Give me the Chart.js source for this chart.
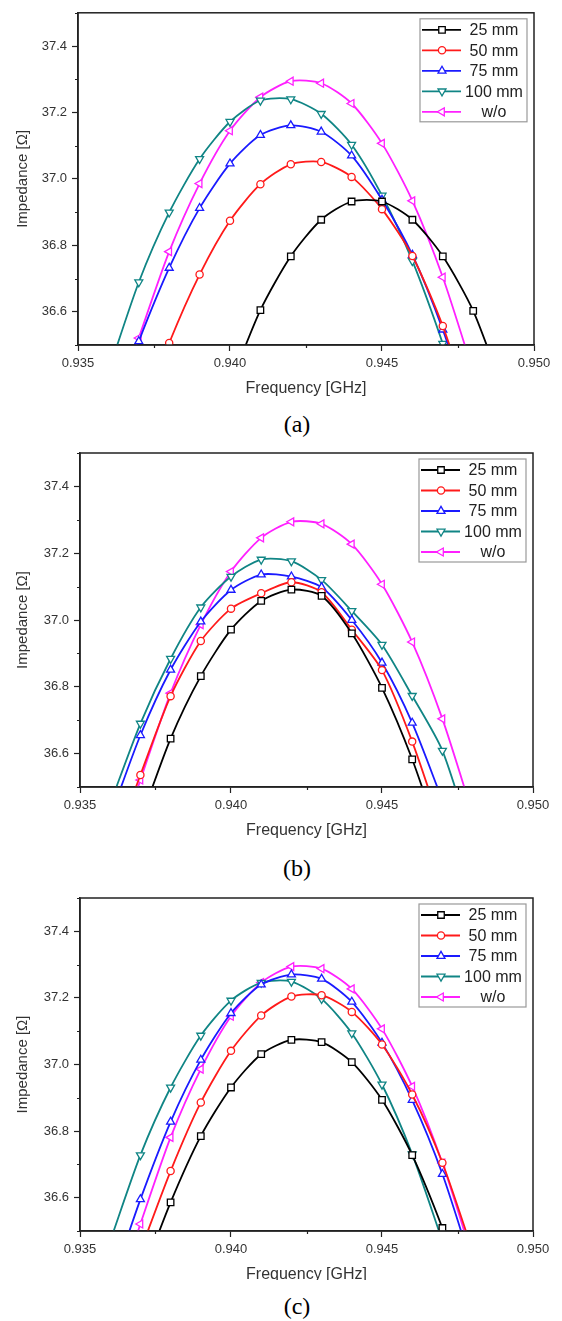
<!DOCTYPE html>
<html>
<head>
<meta charset="utf-8">
<script src="https://cdn.jsdelivr.net/npm/chart.js@4.4.1/dist/chart.umd.min.js"></script>
<style>
body { margin: 0; background: #fff; width: 562px; height: 1321px; position: relative; overflow: hidden; }
.panel { position: absolute; left: 0; width: 562px; overflow: hidden; }
.panel canvas { position: absolute; left: 0; top: 0; }
.cap { position: absolute; left: 267px; width: 60px; text-align: center; line-height: 24px;
       font-family: "Liberation Serif", "Times New Roman", serif; font-size: 24px; color: #000; }
</style>
</head>
<body>
<div class="panel" style="top:0;height:396px"><canvas id="chartA" width="562" height="410"></canvas></div>
<div class="cap" style="top:412px">(a)</div>
<div class="panel" style="top:440px;height:412px"><canvas id="chartB" width="562" height="412"></canvas></div>
<div class="cap" style="top:856px">(b)</div>
<div class="panel" style="top:885px;height:395px"><canvas id="chartC" width="562" height="411"></canvas></div>
<div class="cap" style="top:1294px">(c)</div>

<script>
// frequency points [GHz]
const freq = [0.936, 0.937, 0.938, 0.939, 0.940, 0.941, 0.942, 0.943, 0.944, 0.945, 0.946, 0.947, 0.948, 0.949];

const seriesLabels = ['25 mm', '50 mm', '75 mm', '100 mm', 'w/o'];

// impedance [ohm], null = no point
// (a)
const a25  = [null, null, null, null, 36.38, 36.605, 36.767, 36.877, 36.932, 36.932, 36.877, 36.767, 36.603, 36.36];
const a50  = [null, 36.26, 36.506, 36.712, 36.874, 36.984, 37.044, 37.051, 37.006, 36.909, 36.768, 36.557, 36.28, null];
const a75  = [36.26, 36.511, 36.732, 36.912, 37.046, 37.132, 37.161, 37.142, 37.070, 36.937, 36.771, 36.546, 36.27, null];
const a100 = [36.42, 36.689, 36.899, 37.060, 37.172, 37.236, 37.240, 37.196, 37.103, 36.950, 36.753, 36.504, 36.22, null];
// (b)
const b25  = [null, 36.40, 36.645, 36.832, 36.971, 37.057, 37.091, 37.072, 36.960, 36.797, 36.583, 36.32, null, null];
const b50  = [36.29, 36.536, 36.772, 36.937, 37.034, 37.080, 37.113, 37.083, 36.971, 36.850, 36.636, 36.37, null, null];
const b75  = [36.41, 36.655, 36.851, 36.995, 37.090, 37.136, 37.130, 37.098, 37.000, 36.872, 36.692, 36.46, null, null];
const b100 = [36.45, 36.690, 36.884, 37.038, 37.130, 37.181, 37.176, 37.120, 37.027, 36.926, 36.773, 36.609, 36.33, null];
// (c)
const c25  = [null, 36.35, 36.586, 36.785, 36.931, 37.031, 37.074, 37.067, 37.007, 36.894, 36.728, 36.509, 36.25, null];
const c50  = [null, 36.44, 36.680, 36.886, 37.041, 37.147, 37.204, 37.208, 37.158, 37.060, 36.910, 36.705, 36.44, null];
const c75  = [36.33, 36.595, 36.828, 37.014, 37.154, 37.240, 37.270, 37.257, 37.188, 37.065, 36.893, 36.671, 36.39, null];
const c100 = [36.47, 36.728, 36.931, 37.087, 37.192, 37.246, 37.249, 37.197, 37.094, 36.940, 36.731, 36.47, null, null];
// without (same in all panels)
const woAll = [36.25, 36.521, 36.781, 36.986, 37.145, 37.246, 37.294, 37.288, 37.227, 37.107, 36.934, 36.704, 36.42, null];

// axis ticks
const xMin = 0.935, xMax = 0.950, xStep = 0.0025;
const yMin = 36.5, yMax = 37.5, yStep = 0.1;

const colors = ['#000000', '#ff1a1a', '#1a1aff', '#108585', '#ff20ff'];
const pointStyles = ['rect', 'circle', 'triangle', 'triangle', 'triangle'];
const rotations = [0, 0, 0, 180, 270];
const radii = [4.6, 3.6, 4.6, 4.6, 4.6];

const FONT = '"Liberation Sans", Arial, sans-serif';

function isMajorX(v) { return Math.round(v * 10000) % 50 === 0; }
function isMajorY(v) { return Math.round(v * 10) % 2 === 0; }

function toPoints(arr) {
    const pts = [];
    arr.forEach((v, i) => { if (v !== null) pts.push({ x: freq[i], y: v }); });
    return pts;
}

// frame, minor ticks and legend
const framePlugin = {
    id: 'frame',
    afterDatasetsDraw(chart) {
        const { ctx, chartArea: a } = chart;
        const xs = chart.scales.x, ys = chart.scales.y;
        ctx.save();
        ctx.strokeStyle = '#222';
        ctx.lineWidth = 1.2;
        ctx.beginPath();
        xs.ticks.forEach(t => {
            if (!isMajorX(t.value)) {
                const px = Math.round(xs.getPixelForValue(t.value)) + 0.5;
                ctx.moveTo(px, a.bottom); ctx.lineTo(px, a.bottom + 3);
            }
        });
        ys.ticks.forEach(t => {
            if (!isMajorY(t.value)) {
                const py = Math.round(ys.getPixelForValue(t.value)) + 0.5;
                ctx.moveTo(a.left, py); ctx.lineTo(a.left - 3, py);
            }
        });
        ctx.stroke();
        ctx.lineWidth = 1.5;
        ctx.strokeStyle = '#222';
        ctx.strokeRect(a.left, a.top, a.right - a.left, a.bottom - a.top);

        // legend box
        const bx = a.right - 114, by = a.top + 6, bw = 107, bh = 103;
        ctx.fillStyle = '#fff';
        ctx.fillRect(bx, by, bw, bh);
        ctx.strokeStyle = '#999';
        ctx.lineWidth = 1.2;
        ctx.strokeRect(bx, by, bw, bh);
        ctx.font = '16px ' + FONT;
        ctx.textAlign = 'center';
        ctx.textBaseline = 'middle';
        seriesLabels.forEach((lab, i) => {
            const ry = by + 11 + i * 20.5;
            ctx.strokeStyle = colors[i];
            ctx.lineWidth = 1.8;
            ctx.beginPath();
            ctx.moveTo(bx + 2, ry); ctx.lineTo(bx + 41, ry);
            ctx.stroke();
            ctx.fillStyle = '#fff';
            ctx.lineWidth = 1.3;
            Chart.helpers.drawPoint(ctx, {
                pointStyle: pointStyles[i], rotation: rotations[i],
                radius: radii[i], borderWidth: 1.3
            }, bx + 22, ry);
            ctx.fillStyle = '#222';
            ctx.fillText(lab, bx + 74, ry + 1);
        });
        ctx.restore();
    }
};

function createPanel(id, series, pad) {
    const canvas = document.getElementById(id);
    const ctx = canvas.getContext('2d');
    return new Chart(ctx, {
        type: 'line',
        data: {
            datasets: series.map((arr, i) => ({
                label: seriesLabels[i],
                data: toPoints(arr),
                borderColor: colors[i],
                backgroundColor: '#ffffff',
                borderWidth: 1.8,
                tension: 0.25,
                pointStyle: pointStyles[i],
                pointRotation: rotations[i],
                pointRadius: radii[i],
                pointBorderWidth: 1.3,
                pointBackgroundColor: '#ffffff',
                pointBorderColor: colors[i]
            }))
        },
        options: {
            responsive: false,
            animation: false,
            devicePixelRatio: 1,
            layout: { padding: { top: pad.top, right: pad.right, bottom: 0, left: 0 } },
            plugins: {
                legend: { display: false },
                tooltip: { enabled: false }
            },
            scales: {
                x: {
                    type: 'linear',
                    min: xMin,
                    max: xMax,
                    afterFit: function (scale) { scale.height = 65; },
                    border: { color: '#222', width: 1.5 },
                    grid: {
                        drawOnChartArea: false,
                        tickLength: 6,
                        tickWidth: 1.2,
                        tickColor: (c) => (c.tick && isMajorX(c.tick.value)) ? '#222' : 'rgba(0,0,0,0)'
                    },
                    ticks: {
                        stepSize: xStep,
                        autoSkip: false,
                        maxRotation: 0,
                        padding: 5,
                        color: '#333',
                        font: { family: FONT, size: 13 },
                        callback: function (value) { return isMajorX(value) ? value.toFixed(3) : ''; }
                    },
                    title: {
                        display: true,
                        text: 'Frequency [GHz]',
                        color: '#333',
                        font: { family: FONT, size: 16 },
                        padding: { top: 0, bottom: 12 }
                    }
                },
                y: {
                    min: yMin,
                    max: yMax,
                    afterFit: function (scale) { scale.width = pad.left; },
                    border: { color: '#222', width: 1.5 },
                    grid: {
                        drawOnChartArea: false,
                        tickLength: 6,
                        tickWidth: 1.2,
                        tickColor: (c) => (c.tick && isMajorY(c.tick.value)) ? '#222' : 'rgba(0,0,0,0)'
                    },
                    ticks: {
                        stepSize: yStep,
                        autoSkip: false,
                        padding: 5,
                        color: '#333',
                        font: { family: FONT, size: 13 },
                        callback: function (value) { return isMajorY(value) ? value.toFixed(1) : ''; }
                    },
                    title: {
                        display: true,
                        text: 'Impedance [Ω]',
                        color: '#333',
                        font: { family: FONT, size: 15 },
                        padding: { top: 14, bottom: 0 }
                    }
                }
            }
        },
        plugins: [framePlugin]
    });
}

createPanel('chartA', [a25, a50, a75, a100, woAll], { top: 9, right: 28, left: 78 });
createPanel('chartB', [b25, b50, b75, b100, woAll], { top: 13, right: 29, left: 80 });
createPanel('chartC', [c25, c50, c75, c100, woAll], { top: 13, right: 29, left: 80 });
</script>
</body>
</html>
